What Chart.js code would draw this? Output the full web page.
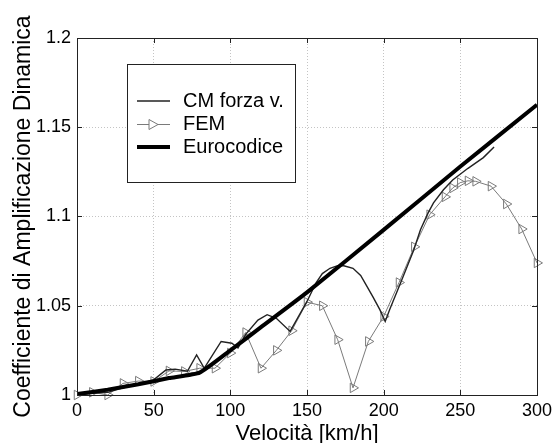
<!DOCTYPE html>
<html>
<head>
<meta charset="utf-8">
<script src="https://cdn.jsdelivr.net/npm/chart.js@4/dist/chart.umd.min.js"></script>
<style>
  html, body { margin: 0; padding: 0; background: #fff; }
  #wrap { width: 553px; height: 443px; }
</style>
</head>
<body>
<div id="wrap"><canvas id="chart" width="553" height="443"></canvas></div>
<script>
// tick labels
const xTicks = [0, 50, 100, 150, 200, 250, 300];
const yTicks = [1, 1.05, 1.1, 1.15, 1.2];

// CM forza v.
const cmSpeed = [0, 10, 20, 30, 40, 50, 58, 64, 72, 78, 83, 94, 101, 105, 110, 118, 124, 130, 139, 150, 156, 160, 165, 170, 174, 180, 185, 189, 193, 197.5, 201, 204, 211, 219.5, 224, 229, 232.5, 239, 245, 255, 265, 272];
const cmValue = [1.0, 1.001, 1.0015, 1.004, 1.006, 1.0085, 1.014, 1.0145, 1.0133, 1.0225, 1.015, 1.030, 1.029, 1.0263, 1.034, 1.042, 1.045, 1.043, 1.0356, 1.0524, 1.063, 1.068, 1.071, 1.0725, 1.0724, 1.071, 1.067, 1.061, 1.055, 1.0478, 1.0412, 1.048, 1.0627, 1.081, 1.0926, 1.102, 1.1076, 1.115, 1.1205, 1.127, 1.133, 1.139];

// FEM
const femSpeed = [0, 10, 20, 30, 40, 50, 60, 70, 80, 90, 100, 110, 120, 130, 140, 150, 160, 170, 180, 190, 200, 210, 220, 230, 240, 245, 250, 255, 260, 270, 280, 290, 300];
const femValue = [1.0, 1.0015, 1.0, 1.0065, 1.0078, 1.0076, 1.0135, 1.0132, 1.015, 1.015, 1.0235, 1.035, 1.015, 1.025, 1.036, 1.052, 1.050, 1.031, 1.004, 1.030, 1.044, 1.063, 1.083, 1.101, 1.111, 1.116, 1.119, 1.120, 1.1197, 1.117, 1.107, 1.093, 1.074];

// Eurocodice
const ecSpeed = [0, 20, 40, 60, 80, 100, 120, 150, 200, 250, 300];
const ecValue = [1.0005, 1.003, 1.006, 1.0095, 1.0125, 1.025, 1.038, 1.0575, 1.0925, 1.128, 1.1626];

const toPoints = (xs, ys) => xs.map((x, i) => ({ x: x, y: ys[i] }));

const FONT = 'Liberation Sans, Arial, sans-serif';

// legend box inside the plot + full frame with inward ticks
const boxLegend = {
    id: 'boxLegend',
    afterDatasetsDraw(chart) {
        const ctx = chart.ctx;
        const area = chart.chartArea;
        const xs = chart.scales.x, ys = chart.scales.y;
        ctx.save();
        // frame
        ctx.strokeStyle = '#222';
        ctx.lineWidth = 1;
        ctx.strokeRect(Math.round(area.left) + 0.5, Math.round(area.top) + 0.5,
            Math.round(area.right - area.left), Math.round(area.bottom - area.top));
        // ticks inward
        ctx.beginPath();
        xTicks.forEach(v => {
            const px = Math.round(xs.getPixelForValue(v)) + 0.5;
            ctx.moveTo(px, area.bottom); ctx.lineTo(px, area.bottom - 5);
            ctx.moveTo(px, area.top); ctx.lineTo(px, area.top + 5);
        });
        yTicks.forEach(v => {
            const py = Math.round(ys.getPixelForValue(v)) + 0.5;
            ctx.moveTo(area.left, py); ctx.lineTo(area.left + 5, py);
            ctx.moveTo(area.right, py); ctx.lineTo(area.right - 5, py);
        });
        ctx.stroke();

        // legend
        const rows = [101, 124.5, 147];
        ctx.fillStyle = '#fff';
        ctx.fillRect(127, 64, 168, 118);
        ctx.strokeRect(127.5, 64.5, 168, 118);
        ctx.font = '20px ' + FONT;
        ctx.textBaseline = 'middle';
        chart.data.datasets.forEach((ds, i) => {
            const y = rows[i];
            ctx.strokeStyle = ds.borderColor;
            ctx.lineWidth = ds.borderWidth;
            ctx.beginPath();
            ctx.moveTo(137, y); ctx.lineTo(170, y);
            ctx.stroke();
            if (ds.pointRadius > 0) {
                ctx.lineWidth = 1;
                ctx.beginPath();
                ctx.moveTo(149, y - 5); ctx.lineTo(158, y); ctx.lineTo(149, y + 5);
                ctx.closePath();
                ctx.fillStyle = '#fff';
                ctx.fill();
                ctx.stroke();
            }
            ctx.fillStyle = '#000';
            ctx.fillText(ds.label, 183, y);
        });
        ctx.restore();
    }
};

new Chart(document.getElementById('chart'), {
    type: 'line',
    data: {
        datasets: [
            {
                label: 'CM forza v.',
                data: toPoints(cmSpeed, cmValue),
                borderColor: '#222',
                borderWidth: 1.4,
                pointRadius: 0,
                tension: 0,
                order: 2
            },
            {
                label: 'FEM',
                data: toPoints(femSpeed, femValue),
                borderColor: '#7a7a7a',
                borderWidth: 1,
                pointStyle: 'triangle',
                rotation: 90,
                pointRadius: 5.5,
                pointBorderColor: '#7a7a7a',
                pointBackgroundColor: 'rgba(255,255,255,0)',
                pointBorderWidth: 1,
                tension: 0,
                clip: 8,
                order: 3
            },
            {
                label: 'Eurocodice',
                data: toPoints(ecSpeed, ecValue),
                borderColor: '#000',
                borderWidth: 4,
                pointRadius: 0,
                tension: 0.15,
                order: 1
            }
        ]
    },
    plugins: [boxLegend],
    options: {
        responsive: false,
        animation: false,
        events: [],
        layout: { padding: { left: 0, right: 16, top: 38, bottom: 0 } },
        plugins: { legend: { display: false }, tooltip: { enabled: false } },
        scales: {
            x: {
                type: 'linear',
                min: 0,
                max: 300,
                afterBuildTicks: scale => { scale.ticks = xTicks.map(v => ({ value: v })); },
                afterFit: scale => { scale.height = 48; scale.paddingLeft = 0; scale.paddingRight = 0; },
                ticks: { color: '#000', font: { family: FONT, size: 18 }, padding: 5, maxRotation: 0 },
                grid: { color: '#c4c4c4', drawTicks: false },
                border: { display: false, dash: [1, 2] },
                title: { display: true, text: 'Velocità [km/h]', color: '#000', font: { family: FONT, size: 22, lineHeight: 1 }, padding: { top: 0, bottom: -2 } }
            },
            y: {
                type: 'linear',
                min: 1,
                max: 1.2,
                afterBuildTicks: scale => { scale.ticks = yTicks.map(v => ({ value: v })); },
                afterFit: scale => { scale.width = 77; scale.paddingTop = 0; scale.paddingBottom = 0; },
                ticks: { color: '#000', font: { family: FONT, size: 18 }, padding: 6, callback: v => String(+v.toFixed(2)) },
                grid: { color: '#c4c4c4', drawTicks: false },
                border: { display: false, dash: [1, 2] },
                title: { display: true, text: 'Coefficiente di Amplificazione Dinamica', color: '#000', font: { family: FONT, size: 23, lineHeight: 1 }, padding: { top: 12, bottom: 0 } }
            }
        }
    }
});
</script>
</body>
</html>
